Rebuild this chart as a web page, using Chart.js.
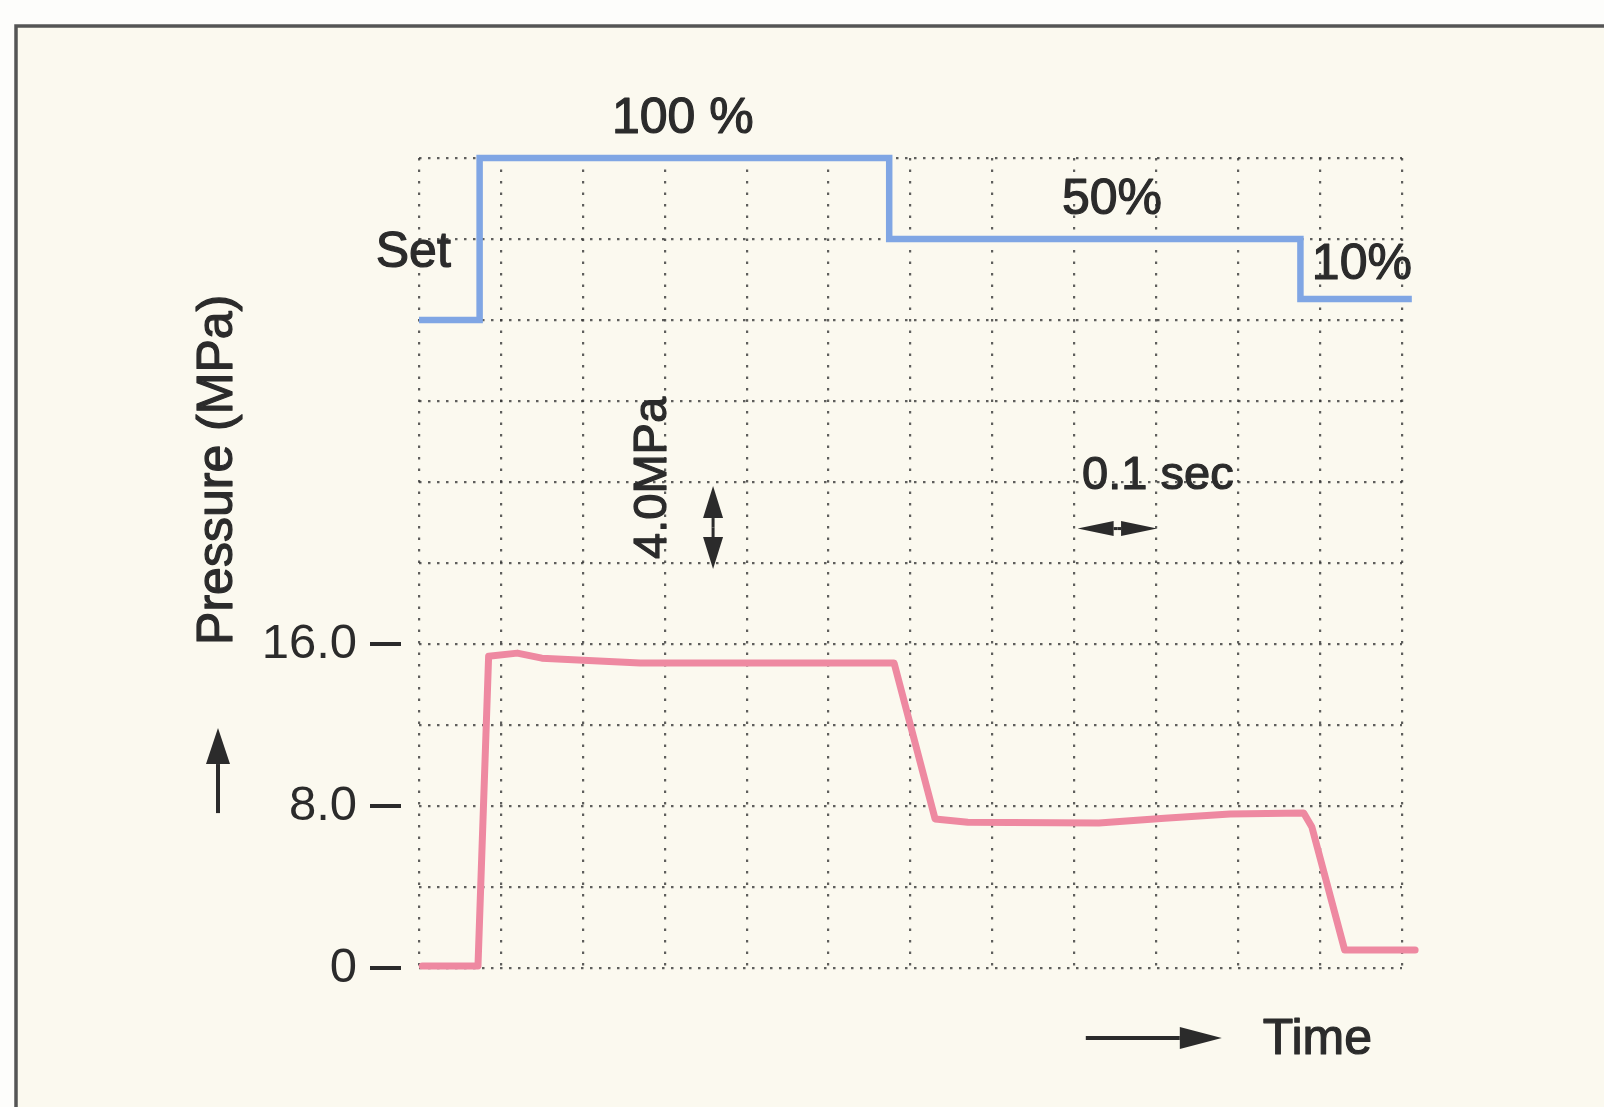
<!DOCTYPE html>
<html><head><meta charset="utf-8">
<script src="https://cdn.jsdelivr.net/npm/chart.js@4.4.1/dist/chart.umd.min.js"></script>
<style>html,body{margin:0;padding:0;background:#fdfdfb;} #wrap{width:1604px;height:1107px;}</style>
</head><body><div id="wrap"><canvas id="c" width="1604" height="1107"></canvas></div>
<script>
// ---- data (time in s, pressure in MPa) ----
const pressureTime = [0.004, 0.072, 0.085, 0.12, 0.15, 0.27, 0.58, 0.63, 0.67, 0.83, 0.91, 0.99, 1.08, 1.09, 1.13, 1.216];
const pressureMPa  = [0.1,   0.1,   15.4,  15.55, 15.3, 15.06, 15.06, 7.36, 7.2, 7.16, 7.4, 7.6, 7.65, 6.96, 0.89, 0.89];
const setTime    = [0, 0.074, 0.574, 1.076, 1.212];
const setPercent = [0, 100, 50, 13, 13];
const yTickValues = [0, 8, 16];
const yTickLabels = ['0', '8.0', '16.0'];
const setLabels = ['Set', '100 %', '50%', '10%'];

const FONT = '"Liberation Sans", Arial, Helvetica, sans-serif';
const TEXT = '#2b2b2b';
const GRID = 'rgba(55,55,55,0.8)';

function arrow(ctx, x1, y1, x2, y2, hl, hw, lw) {
  const a = Math.atan2(y2 - y1, x2 - x1);
  const bx = x2 - hl * Math.cos(a), by = y2 - hl * Math.sin(a);
  ctx.lineWidth = lw; ctx.beginPath(); ctx.moveTo(x1, y1); ctx.lineTo(bx, by); ctx.stroke();
  ctx.beginPath(); ctx.moveTo(x2, y2);
  ctx.lineTo(bx + hw * Math.sin(a), by - hw * Math.cos(a));
  ctx.lineTo(bx - hw * Math.sin(a), by + hw * Math.cos(a));
  ctx.closePath(); ctx.fill();
}
function doubleArrow(ctx, x1, y1, x2, y2, hl, hw, lw) {
  const mx = (x1 + x2) / 2, my = (y1 + y2) / 2;
  arrow(ctx, mx, my, x1, y1, hl, hw, lw);
  arrow(ctx, mx, my, x2, y2, hl, hw, lw);
}
function boldText(ctx, s, x, y) {
  ctx.lineWidth = 1.2; ctx.lineJoin = 'round';
  ctx.strokeText(s, x, y); ctx.fillText(s, x, y);
}

const bgPlugin = {
  id: 'bg',
  beforeDraw(chart) {
    const {ctx, width: W, height: H} = chart;
    ctx.save();
    ctx.fillStyle = '#fdfdfb'; ctx.fillRect(0, 0, W, H);
    ctx.fillStyle = '#fbf9ef'; ctx.fillRect(16, 26, W - 16, H - 26);
    ctx.strokeStyle = '#555'; ctx.lineWidth = 3.5;
    ctx.beginPath(); ctx.moveTo(16, H); ctx.lineTo(16, 26); ctx.lineTo(W, 26); ctx.stroke();
    ctx.restore();
  }
};

const annoPlugin = {
  id: 'anno',
  afterDatasetsDraw(chart) {
    const {ctx, chartArea: ca} = chart;
    const xs = chart.scales.x, ys = chart.scales.y;
    const px = v => xs.getPixelForValue(v), py = v => ys.getPixelForValue(v);
    ctx.save();
    ctx.fillStyle = TEXT; ctx.strokeStyle = TEXT;
    ctx.textAlign = 'center'; ctx.textBaseline = 'middle';
    ctx.font = `50px ${FONT}`;
    boldText(ctx, setLabels[1], px(0.322), py(41.9));
    boldText(ctx, setLabels[0], px(-0.007), py(35.3));
    boldText(ctx, setLabels[2], px(0.846), py(37.9));
    boldText(ctx, setLabels[3], px(1.151), py(34.7));
    ctx.font = `47px ${FONT}`;
    boldText(ctx, '0.1 sec', px(0.902), py(24.3));
    ctx.save(); ctx.translate(px(0.286), py(24.2)); ctx.rotate(-Math.PI / 2);
    boldText(ctx, '4.0MPa', 0, 0); ctx.restore();
    doubleArrow(ctx, px(0.359), py(23.8), px(0.359), py(19.7), 32, 10, 3);
    doubleArrow(ctx, px(0.804), py(21.7), px(0.901), py(21.7), 36, 7.5, 3);
    // short tick dashes next to the pressure labels
    ctx.lineWidth = 4;
    yTickValues.forEach(v => {
      ctx.beginPath(); ctx.moveTo(ca.left - 49, py(v)); ctx.lineTo(ca.left - 18, py(v)); ctx.stroke();
    });
    // y-axis title with arrow
    ctx.font = `50px ${FONT}`;
    ctx.save(); ctx.translate(218, py(24.6)); ctx.rotate(-Math.PI / 2);
    boldText(ctx, 'Pressure (MPa)', 0, 0); ctx.restore();
    arrow(ctx, 218, py(7.65), 218, py(11.85), 36, 12, 4);
    // time arrow
    arrow(ctx, px(0.814), 1038, px(0.980), 1038, 42, 11, 4);
    ctx.textAlign = 'left';
    ctx.font = `50px ${FONT}`;
    boldText(ctx, 'Time', px(1.030), 1040);
    ctx.restore();
  }
};

new Chart(document.getElementById('c').getContext('2d'), {
  type: 'line',
  data: {
    datasets: [
      { label: 'Set', data: setTime.map((t, i) => ({x: t, y: setPercent[i]})), yAxisID: 'ySet',
        stepped: true, borderColor: '#80a6e4', borderWidth: 6.5, pointRadius: 0, clip: false, fill: false },
      { label: 'Pressure', data: pressureTime.map((t, i) => ({x: t, y: pressureMPa[i]})), yAxisID: 'y',
        borderColor: '#ee89a1', borderWidth: 7, pointRadius: 0, tension: 0, clip: false, fill: false,
        borderJoinStyle: 'round', borderCapStyle: 'round' }
    ]
  },
  options: {
    responsive: false, animation: false, devicePixelRatio: 1,
    layout: {padding: {left: 0, right: 202, top: 158, bottom: 0}},
    plugins: {legend: {display: false}, tooltip: {enabled: false}},
    scales: {
      x: { type: 'linear', min: 0, max: 1.2,
        ticks: {display: false, stepSize: 0.1},
        grid: {color: GRID, lineWidth: 2.2, drawTicks: false},
        border: {display: false, dash: [2.5, 9]},
        afterFit: s => { s.height = 139; } },
      y: { type: 'linear', min: 0, max: 40,
        ticks: {stepSize: 4, padding: 62, autoSkip: false, color: TEXT, font: {family: FONT, size: 49},
          callback: v => { const i = yTickValues.indexOf(v); return i >= 0 ? yTickLabels[i] : ''; }},
        grid: {color: GRID, lineWidth: 2.2, drawTicks: false},
        border: {display: false, dash: [2.5, 6.5]},
        afterFit: s => { s.width = 419; } },
      ySet: { type: 'linear', min: -400, max: 100, display: false }
    }
  },
  plugins: [bgPlugin, annoPlugin]
});
</script></body></html>
